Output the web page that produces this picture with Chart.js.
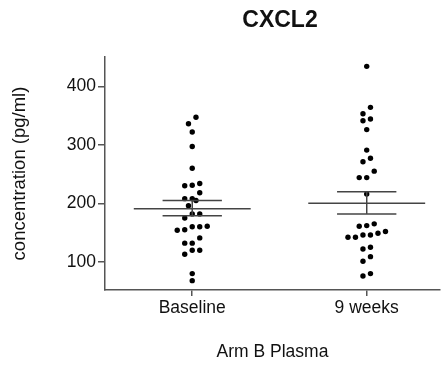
<!DOCTYPE html>
<html>
<head>
<meta charset="utf-8">
<script src="https://cdn.jsdelivr.net/npm/chart.js@4/dist/chart.umd.min.js"></script>
<style>
  html, body { margin: 0; padding: 0; background: #fff; }
  #wrap { width: 444px; height: 367px; }
</style>
</head>
<body>
<div id="wrap"><canvas id="cxcl2"></canvas></div>
<script>
// data
const groups = ['Baseline', '9 weeks'];
const baseline = [347, 336, 322, 297, 260, 231, 230, 234, 218, 208, 208, 205, 196, 182, 182,
    175, 161, 155, 154, 160, 160, 141, 132, 132, 120, 113, 120, 80, 68];
const weeks9 = [434, 364, 353, 341, 344, 326, 291, 277, 271, 255, 244, 244, 216, 165, 161,
    162, 152, 146, 142, 142, 146, 149, 122, 125, 109, 101, 76, 80];
const means = [191, 200];
const semLow = [179, 182];
const semHigh = [205, 220];
const yTicks = [100, 200, 300, 400];

const axisColor = '#555';
const dotStep = 0.043;

// group close values into rows, then centre each row on the category (beeswarm)
function swarm(values, center) {
    const sorted = values.slice().sort((a, b) => a - b);
    const rows = [];
    let row = [];
    sorted.forEach(v => {
        if (row.length && v - row[0] > 11) { rows.push(row); row = []; }
        row.push(v);
    });
    if (row.length) rows.push(row);
    const pts = [];
    rows.forEach(r => {
        r.forEach((v, i) => {
            pts.push({ x: center + (i - (r.length - 1) / 2) * dotStep, y: v });
        });
    });
    return pts;
}

const datasets = [
    { data: swarm(baseline, 1) },
    { data: swarm(weeks9, 2) }
].map(d => Object.assign(d, {
    type: 'scatter',
    pointRadius: 2.7,
    pointBackgroundColor: '#000',
    pointBorderWidth: 0,
    order: 2
}));

function segment(pts) {
    return {
        type: 'line',
        data: pts,
        borderColor: '#444',
        borderWidth: 1.5,
        pointRadius: 0,
        fill: false,
        order: 1
    };
}

groups.forEach((g, i) => {
    const c = i + 1;
    datasets.push(segment([{ x: c - 0.335, y: means[i] }, { x: c + 0.335, y: means[i] }]));
    datasets.push(segment([{ x: c - 0.17, y: semHigh[i] }, { x: c + 0.17, y: semHigh[i] }]));
    datasets.push(segment([{ x: c - 0.17, y: semLow[i] }, { x: c + 0.17, y: semLow[i] }]));
    datasets.push(segment([{ x: c, y: semLow[i] }, { x: c, y: semHigh[i] }]));
});

const titlePlugin = {
    id: 'topTitle',
    afterDraw(chart) {
        const c = chart.ctx;
        c.save();
        c.fillStyle = '#111';
        c.font = 'bold 23px "Liberation Sans", Arial, sans-serif';
        c.textAlign = 'center';
        c.textBaseline = 'middle';
        c.fillText('CXCL2', 280, 21);
        c.restore();
    }
};

const font = { family: '"Liberation Sans", Arial, sans-serif', size: 17.5 };

new Chart(document.getElementById('cxcl2'), {
    type: 'scatter',
    data: { datasets: datasets },
    options: {
        responsive: true,
        maintainAspectRatio: false,
        animation: false,
        layout: { padding: { top: 57, right: 4, left: 0, bottom: 0 } },
        plugins: {
            legend: { display: false },
            tooltip: { enabled: false }
        },
        scales: {
            x: {
                type: 'linear',
                min: 0.5,
                max: 2.42,
                afterBuildTicks: s => { s.ticks = groups.map((g, i) => ({ value: i + 1 })); },
                afterFit: s => { s.height = 77; },
                ticks: {
                    color: '#111',
                    font: font,
                    padding: 2,
                    callback: v => groups[v - 1]
                },
                grid: { drawOnChartArea: false, drawTicks: true, tickLength: 6, color: axisColor, lineWidth: 1.5 },
                border: { color: axisColor, width: 1.5 },
                title: { display: true, text: 'Arm B Plasma', color: '#111', font: font, padding: { top: 24, bottom: 4 } }
            },
            y: {
                min: 52,
                max: 450,
                afterBuildTicks: s => { s.ticks = yTicks.map(v => ({ value: v })); },
                afterFit: s => { s.width = 105; },
                ticks: { color: '#111', font: font, padding: 2 },
                grid: { drawOnChartArea: false, drawTicks: true, tickLength: 7, color: axisColor, lineWidth: 1.5 },
                border: { color: axisColor, width: 1.5 },
                title: {
                    display: true, text: 'concentration (pg/ml)', color: '#111',
                    font: { family: font.family, size: 18.5 }, padding: { top: 9, bottom: 0 }
                }
            }
        }
    },
    plugins: [titlePlugin]
});
</script>
</body>
</html>
